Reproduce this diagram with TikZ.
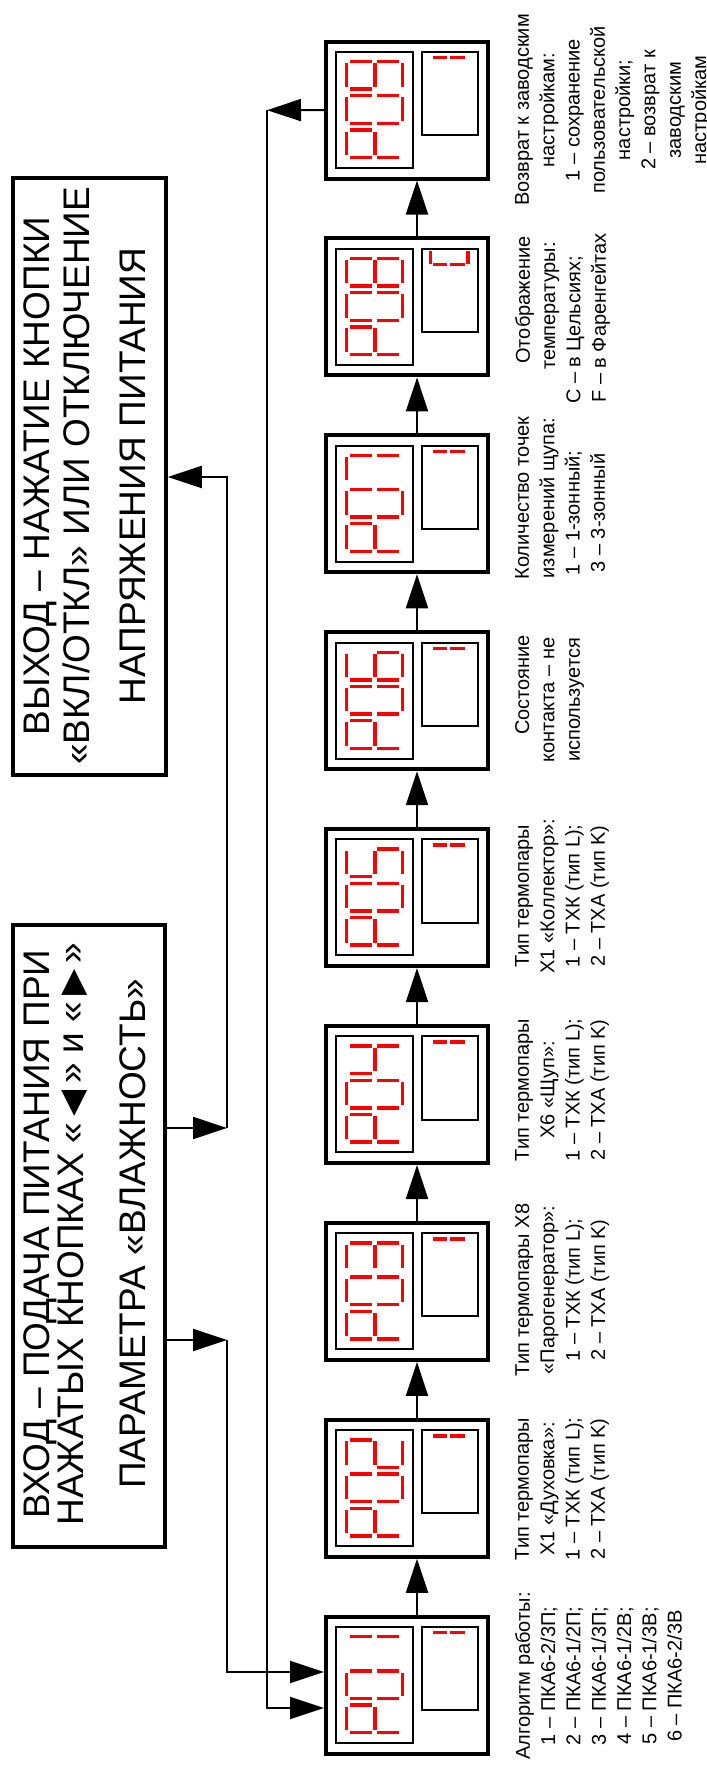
\documentclass[tikz,border=0pt]{standalone}
\usepackage{fontspec}
\setmainfont{Liberation Sans}
\newfontfamily\symfont{DejaVu Sans}
\usetikzlibrary{arrows.meta}
\definecolor{segred}{RGB}{255,0,0}

% seven-segment pieces (portrait view of a rotated digit): #1 box left x, #2 band top y
\newcommand\segA[2]{\fill[segred] ({#1+19},{#2+21.6}) rectangle ({#1+22.4},{#2+45});}
\newcommand\segG[2]{\fill[segred] ({#1+47.3},{#2+21.6}) rectangle ({#1+50.7},{#2+45});}
\newcommand\segD[2]{\fill[segred] ({#1+75},{#2+21.6}) rectangle ({#1+78.4},{#2+45});}
\newcommand\segB[2]{\fill[segred] ({#1+24},{#2+18.3}) rectangle ({#1+45.7},{#2+21.7});}
\newcommand\segC[2]{\fill[segred] ({#1+51.3},{#2+18.3}) rectangle ({#1+73.3},{#2+21.7});}
\newcommand\segF[2]{\fill[segred] ({#1+24},{#2+45.9}) rectangle ({#1+45.7},{#2+49.3});}
\newcommand\segE[2]{\fill[segred] ({#1+51.3},{#2+45.9}) rectangle ({#1+73.3},{#2+49.3});}
\newcommand\dispdigit[3]{\foreach \s in {#3}{\csname seg\s\endcsname{#1}{#2}}}

\newcommand\dispunit[3]{%
  \node[dispbox] (#1) at (407,{#2+68.5}) {};
  \draw[innerbox] (336,{#2+10.3}) rectangle (413,{#2+126.3});
  \draw[innerbox] (422,{#2+10.3}) rectangle (478,{#2+93.5});
  \dispdigit{326}{#2}{#3}
  \dispdigit{326}{#2+34.2}{A,B,C,D,E,F}
  \dispdigit{326}{#2+68.4}{A,B,E,F,G}
}
\newcommand\smallone[1]{%
  \fill[segred] (433,{#1+14.3}) rectangle (447,{#1+17.7});
  \fill[segred] (450,{#1+14.3}) rectangle (465,{#1+17.7});}
\newcommand\smallC[1]{%
  \fill[segred] (429.2,{#1+12.7}) rectangle (432.4,{#1+26});
  \fill[segred] (466.4,{#1+12.7}) rectangle (469.6,{#1+26});
  \fill[segred] (433,{#1+24.6}) rectangle (447,{#1+28});
  \fill[segred] (450,{#1+24.6}) rectangle (465,{#1+28});}
\newcommand\tri[1]{{\symfont\fontsize{34}{32}\selectfont #1}}

\begin{document}
\begin{tikzpicture}[x=1pt,y=-1pt,
  dispbox/.style={draw, line width=4pt, minimum width=162pt, minimum height=137pt, inner sep=0pt},
  innerbox/.style={draw, line width=2pt},
  bigbox/.style={draw, line width=3.5pt, inner sep=0pt},
  conn/.style={line width=2pt},
  arr/.style={conn, -{Triangle[length=34pt,width=22pt]}},
  bigtxt/.style={rotate=90, align=center, inner sep=0pt, anchor=north},
  lbl/.style={rotate=90, align=center, inner sep=0pt, anchor=north, font=\fontsize{20}{25.3}\selectfont}]
\useasboundingbox (0,0) rectangle (707,1773);
\fill[white] (0,0) rectangle (707,1773);

% display units
\dispunit{rg1}{1616.7}{B,C}
\dispunit{rg2}{1419.8}{A,B,D,E,G}
\dispunit{rg3}{1222.9}{A,B,C,D,G}
\dispunit{rg4}{1026.0}{B,C,F,G}
\dispunit{rg5}{829.1}{A,C,D,F,G}
\dispunit{rg6}{632.2}{A,C,D,E,F,G}
\dispunit{rg7}{435.3}{A,B,C}
\dispunit{rg8}{238.4}{A,B,C,D,E,F,G}
\dispunit{rg9}{41.5}{A,B,C,D,F,G}
\smallone{1616.7}\smallone{1419.8}\smallone{1222.9}\smallone{1026.0}
\smallone{829.1}\smallone{632.2}\smallone{435.3}\smallC{238.4}\smallone{41.5}

% arrows between display units
\draw[arr] ([xshift=10pt]rg1.north) -- ([xshift=10pt]rg2.south);
\draw[arr] ([xshift=10pt]rg2.north) -- ([xshift=10pt]rg3.south);
\draw[arr] ([xshift=10pt]rg3.north) -- ([xshift=10pt]rg4.south);
\draw[arr] ([xshift=10pt]rg4.north) -- ([xshift=10pt]rg5.south);
\draw[arr] ([xshift=10pt]rg5.north) -- ([xshift=10pt]rg6.south);
\draw[arr] ([xshift=10pt]rg6.north) -- ([xshift=10pt]rg7.south);
\draw[arr] ([xshift=10pt]rg7.north) -- ([xshift=10pt]rg8.south);
\draw[arr] ([xshift=10pt]rg8.north) -- ([xshift=10pt]rg9.south);

% big boxes
\node[bigbox, minimum width=152pt, minimum height=622pt] (entry) at (89,1236) {};
\node[bigbox, minimum width=153pt, minimum height=597pt] (exit) at (89.5,476.5) {};
\node[bigtxt, font=\fontsize{37}{32}\selectfont] (entrytxt) at (23.3,1234)
  {ВХОД – ПОДАЧА ПИТАНИЯ ПРИ\\ НАЖАТЫХ КНОПКАХ «\,\tri{◀}\,» и «\,\tri{▶}\,»\\[30pt] ПАРАМЕТРА «ВЛАЖНОСТЬ»};
\node[bigtxt, font=\fontsize{37}{40}\selectfont] (exittxt) at (23.7,476)
  {ВЫХОД – НАЖАТИЕ КНОПКИ\\ «ВКЛ/ОТКЛ» ИЛИ ОТКЛЮЧЕНИЕ\\[16pt] НАПРЯЖЕНИЯ ПИТАНИЯ};

% connectors on the left
\coordinate (j9) at (267,110.2);
\draw[arr] (rg9.west) -- (j9);
\draw[arr] (j9) |- (rg1.west |- 0,1708);
\coordinate (je) at (227,1340);
\draw[arr] (entry.east |- je) -- (je);
\draw[arr] (je) |- (rg1.west |- 0,1672);
\coordinate (jx) at (227,1128);
\draw[arr] (entry.east |- jx) -- (jx);
\draw[arr] (jx) |- (exit.east |- 0,477);

% labels
\node[lbl] (t1) at (515,1676) {Алгоритм работы:\\1 – ПКА6-2/3П;\\2 – ПКА6-1/2П;\\3 – ПКА6-1/3П;\\4 – ПКА6-1/2В;\\5 – ПКА6-1/3В;\\6 – ПКА6-2/3В};
\node[lbl] (t2) at (515,1489) {Тип термопары\\X1 «Духовка»:\\1 – ТХК (тип L);\\2 – ТХА (тип K)};
\node[lbl] (t3) at (515,1290) {Тип термопары X8\\«Парогенератор»:\\1 – ТХК (тип L);\\2 – ТХА (тип K)};
\node[lbl] (t4) at (515,1090) {Тип термопары\\X6 «Щуп»:\\1 – ТХК (тип L);\\2 – ТХА (тип K)};
\node[lbl] (t5) at (515,896) {Тип термопары\\X1 «Коллектор»:\\1 – ТХК (тип L);\\2 – ТХА (тип K)};
\node[lbl] (t6) at (515,700) {\hspace*{30pt}Состояние\\контакта – не\\используется};
\node[lbl] (t7) at (515,498) {Количество точек\\измерений щупа:\\1 – 1-зонный;\hspace*{30pt}\null\\3 – 3-зонный\hspace*{30pt}\null};
\node[lbl] (t8) at (515,318) {\hspace*{36pt}Отображение\\\hspace*{24pt}температуры:\\C – в Цельсиях;\hspace*{24pt}\null\\F – в Фаренгейтах};
\node[lbl] (t9) at (515,110) {Возврат к заводским\\настройкам:\\1 – сохранение\\пользовательской\\настройки;\\2 – возврат к\\заводским\\настройкам};
\end{tikzpicture}
\end{document}
